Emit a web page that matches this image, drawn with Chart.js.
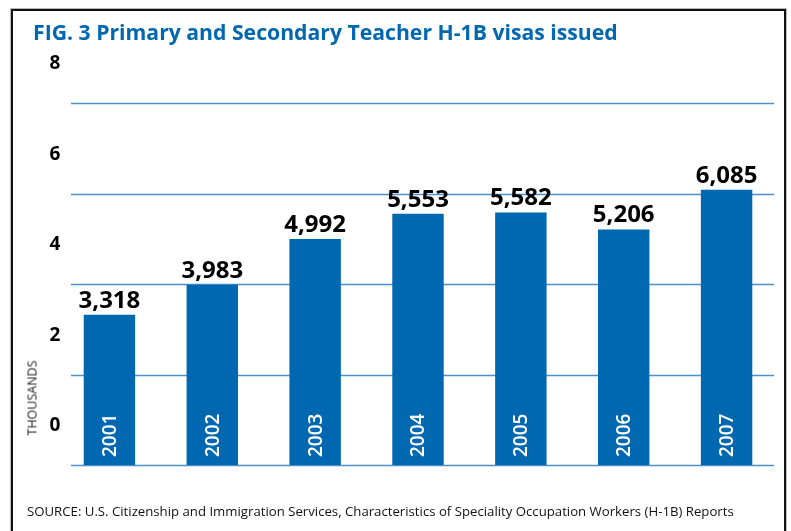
<!DOCTYPE html>
<html>
<head>
<meta charset="utf-8">
<script src="https://cdn.jsdelivr.net/npm/chart.js@4"></script>
<style>
  html, body { margin: 0; padding: 0; background: #fff; }
  #wrap { position: relative; width: 791px; height: 531px; overflow: hidden; }
  #frame {
    position: absolute; left: 11px; top: 9px; width: 771px; height: 600px;
    border: 2.5px solid #111; box-shadow: 0 0 0 1px #bbb;
  }
  #title {
    position: absolute; left: 33px; top: 20px; margin: 0;
    font: bold 21.2px "Open Sans", sans-serif; line-height: 24px; color: #0067b1; white-space: nowrap;
  }
  #unit {
    position: absolute; left: 32px; top: 398px;
    transform: translate(-50%, -50%) rotate(-90deg);
    font: 12.5px "Open Sans", sans-serif; color: #222; white-space: nowrap;
  }
  #source {
    position: absolute; left: 27px; top: 502px;
    font: 13.2px "Open Sans", sans-serif; color: #111; white-space: nowrap;
  }
  canvas { position: absolute; left: 0; top: 0; }
</style>
</head>
<body>
<div id="wrap">
  <div id="frame"></div>
  <canvas id="visaChart" width="791" height="531"></canvas>
  <h1 id="title">FIG. 3 Primary and Secondary Teacher H-1B visas issued</h1>
  <div id="unit">THOUSANDS</div>
  <div id="source">SOURCE: U.S. Citizenship and Immigration Services, Characteristics of Speciality Occupation Workers (H-1B) Reports</div>
</div>
<script>
// visas issued per fiscal year, in thousands
const years = ['2001', '2002', '2003', '2004', '2005', '2006', '2007'];
const visas = [3.318, 3.983, 4.992, 5.553, 5.582, 5.206, 6.085];
const yTicks = [0, 2, 4, 6, 8];

const barBlue = '#0067b1';
const gridBlue = '#4a91cd';

// horizontal rules and y numbers, value labels on top, year written up the inside of each bar
const barText = {
  id: 'barText',
  beforeDatasetsDraw(chart) {
    const ctx = chart.ctx;
    const y = chart.scales.y;
    const area = chart.chartArea;
    ctx.save();
    ctx.strokeStyle = gridBlue;
    ctx.lineWidth = 1.5;
    ctx.fillStyle = '#000';
    ctx.font = 'bold 19px "Open Sans", sans-serif';
    ctx.textAlign = 'center';
    ctx.textBaseline = 'middle';
    for (const t of yTicks) {
      const py = Math.round(y.getPixelForValue(t)) + 0.5;
      ctx.beginPath();
      ctx.moveTo(area.left + 13, py);
      ctx.lineTo(area.right - 4, py);
      ctx.stroke();
      // the numbers sit midway between rules, above the one they belong to
      ctx.fillText(String(t), area.left - 3, py - 40);
    }
    ctx.restore();
  },
  afterDatasetsDraw(chart) {
    const ctx = chart.ctx;
    const meta = chart.getDatasetMeta(0);
    ctx.save();
    meta.data.forEach((bar, i) => {
      const label = Math.round(visas[i] * 1000).toLocaleString('en-US');
      ctx.fillStyle = '#000';
      ctx.font = 'bold 24px "Open Sans", sans-serif';
      ctx.textAlign = 'center';
      ctx.textBaseline = 'alphabetic';
      ctx.fillText(label, bar.x, bar.y - 7);

      ctx.save();
      ctx.translate(bar.x + 1, bar.base - 8);
      ctx.rotate(-Math.PI / 2);
      ctx.fillStyle = '#fff';
      ctx.font = '600 19px "Open Sans", sans-serif';
      ctx.textAlign = 'left';
      ctx.textBaseline = 'middle';
      ctx.fillText(years[i], 0, 0);
      ctx.restore();
    });
    ctx.restore();
  }
};

new Chart(document.getElementById('visaChart'), {
  type: 'bar',
  data: {
    labels: years,
    datasets: [{
      data: visas,
      backgroundColor: barBlue,
      barPercentage: 0.5,
      categoryPercentage: 1
    }]
  },
  options: {
    responsive: false,
    animation: false,
    layout: { padding: { top: 103, bottom: 66, left: 58, right: 13 } },
    plugins: { legend: { display: false }, tooltip: { enabled: false } },
    scales: {
      x: { display: false },
      y: { display: false, min: 0, max: 8 }
    }
  },
  plugins: [barText]
});
</script>
</body>
</html>
